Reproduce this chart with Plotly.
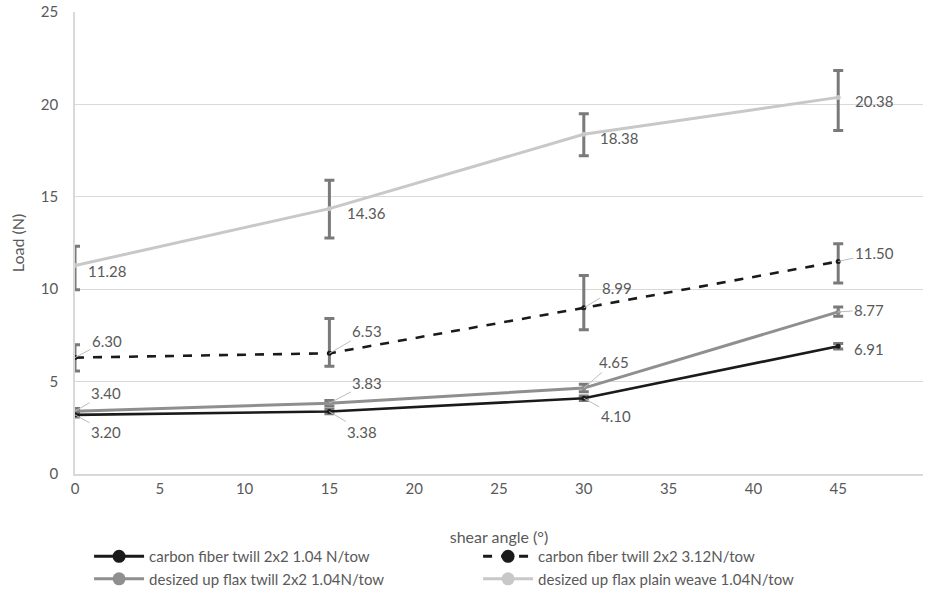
import plotly.graph_objects as go

# ---------------- data ----------------
shear_angle = [0, 15, 30, 45]

series_names = [
    "carbon fiber twill 2x2 1.04 N/tow",
    "carbon fiber twill 2x2 3.12N/tow",
    "desized up flax twill 2x2 1.04N/tow",
    "desized up flax plain weave 1.04N/tow",
]

carbon_104 = [3.20, 3.38, 4.10, 6.91]
carbon_312 = [6.30, 6.53, 8.99, 11.50]
flax_twill = [3.40, 3.83, 4.65, 8.77]
flax_plain = [11.28, 14.36, 18.38, 20.38]

# error bars (upper / lower)
carbon_104_err_plus = [0.12, 0.12, 0.12, 0.15]
carbon_104_err_minus = [0.12, 0.12, 0.12, 0.15]
carbon_312_err_plus = [0.70, 1.89, 1.75, 0.96]
carbon_312_err_minus = [0.73, 0.70, 1.18, 1.17]
flax_twill_err_plus = [0.15, 0.15, 0.20, 0.27]
flax_twill_err_minus = [0.15, 0.15, 0.20, 0.24]
flax_plain_err_plus = [1.04, 1.53, 1.12, 1.46]
flax_plain_err_minus = [1.31, 1.59, 1.16, 1.79]

x_ticks = [0, 5, 10, 15, 20, 25, 30, 35, 40, 45, 50]
y_ticks = [0, 5, 10, 15, 20, 25]

# ---------------- style ----------------
colors = ["#1a1a1a", "#1a1a1a", "#8f8f8f", "#c8c8c8"]
dashes = ["solid", "dash", "solid", "solid"]
widths = [2.6, 2.6, 3, 3]
err_color = "#7a7a7a"
label_color = "#595959"
leader_color = "#bdbdbd"
font_family = "Lato, 'Open Sans', sans-serif"

# label offsets (pixels) and whether a leader line is drawn
label_offsets = [
    [(31, 17, True), (33, 20, True), (32, 18, True), (31, 3, False)],
    [(32, -17, True), (38, -22, True), (33, -20, True), (36, -8, True)],
    [(31, -18, True), (38, -20, True), (30, -26, True), (31, -2, True)],
    [(32, 5, False), (37, 4, False), (35, 4, False), (36, 4, False)],
]

values = [carbon_104, carbon_312, flax_twill, flax_plain]
err_plus = [carbon_104_err_plus, carbon_312_err_plus, flax_twill_err_plus, flax_plain_err_plus]
err_minus = [carbon_104_err_minus, carbon_312_err_minus, flax_twill_err_minus, flax_plain_err_minus]

fig = go.Figure()

# draw order: light series first so dark ones sit on top
order = [3, 2, 1, 0]
for i in order:
    fig.add_trace(go.Scatter(
        x=shear_angle, y=values[i], mode="lines+markers",
        name=series_names[i], showlegend=False,
        line=dict(color=colors[i], width=widths[i], dash=dashes[i]),
        marker=dict(color=colors[i], size=5),
        error_y=dict(type="data", symmetric=False, array=err_plus[i],
                     arrayminus=err_minus[i], color=err_color,
                     thickness=3, width=5),
    ))

# legend entries
for i in range(4):
    fig.add_trace(go.Scatter(
        x=[None], y=[None], mode="lines+markers", name=series_names[i],
        line=dict(color=colors[i], width=3, dash=dashes[i]),
        marker=dict(color=colors[i], size=13),
    ))

annotations = []
for i in range(4):
    for j, (xv, yv) in enumerate(zip(shear_angle, values[i])):
        ax, ay, leader = label_offsets[i][j]
        annotations.append(dict(
            x=xv, y=yv, xref="x", yref="y",
            text=f"{yv:.2f}", showarrow=True,
            ax=ax, ay=ay, axref="pixel", ayref="pixel",
            arrowhead=0, arrowwidth=1,
            arrowcolor=leader_color if leader else "rgba(0,0,0,0)",
            standoff=0, startstandoff=0,
            font=dict(family=font_family, size=15, color=label_color),
        ))

fig.update_layout(
    width=931, height=599,
    margin=dict(l=75, r=8, t=12, b=125, autoexpand=False),
    paper_bgcolor="white", plot_bgcolor="white",
    font=dict(family=font_family, size=14, color=label_color),
    annotations=annotations,
    xaxis=dict(
        range=[0, 50], tickvals=x_ticks, ticktext=[str(v) for v in x_ticks],
        showgrid=False, zeroline=False, showline=True, linecolor="#d9d9d9",
        linewidth=1.5, ticks="", automargin=False,
        tickfont=dict(size=15, color=label_color),
        title=dict(text="shear angle (°)", font=dict(size=16, color=label_color), standoff=36),
    ),
    yaxis=dict(
        range=[0, 25], tickvals=y_ticks, ticktext=[str(v) for v in y_ticks],
        showgrid=True, gridcolor="#d9d9d9", gridwidth=1.2, zeroline=False,
        showline=True, linecolor="#d9d9d9", linewidth=1.5, ticks="",
        ticklabelstandoff=12, automargin=False,
        tickfont=dict(size=15, color=label_color),
        title=dict(text="Load (N)", font=dict(size=16, color=label_color), standoff=12),
    ),
    legend=dict(
        orientation="h", x=0.0166, xanchor="left", y=-0.143, yanchor="top",
        entrywidth=324, entrywidthmode="pixels",
        font=dict(size=15, color=label_color), itemwidth=50,
        tracegroupgap=0, bgcolor="rgba(0,0,0,0)",
    ),
)

fig.write_html("out.html", config={"displayModeBar": False},
               post_script="document.body.style.margin='0';")
